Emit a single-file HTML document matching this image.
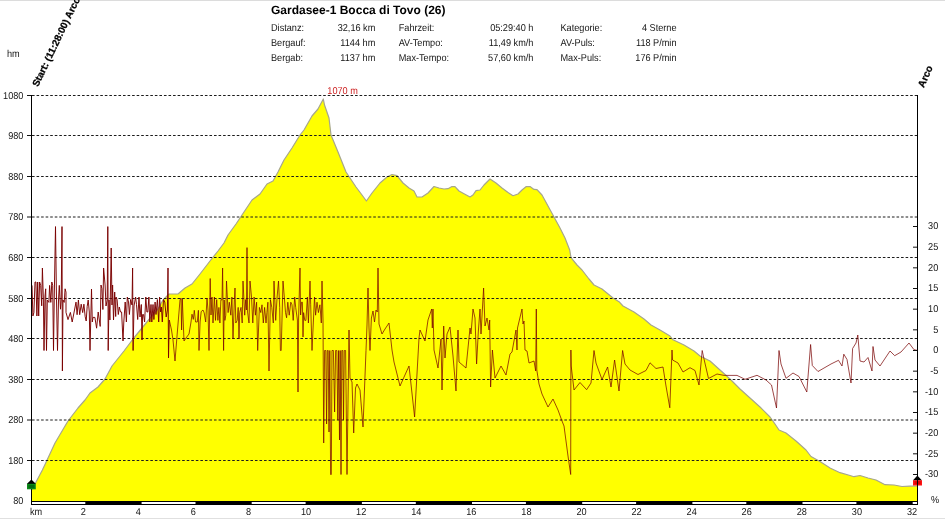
<!DOCTYPE html>
<html><head><meta charset="utf-8"><title>Gardasee-1 Bocca di Tovo (26)</title>
<style>
html,body{margin:0;padding:0;background:#fff;}
body{width:945px;height:519px;overflow:hidden;position:relative;font-family:"Liberation Sans",Arial,sans-serif;}
svg text{text-rendering:geometricPrecision;}
</style></head><body>
<svg width="945" height="519" viewBox="0 0 945 519" style="position:absolute;left:0;top:0">
<rect x="0" y="0" width="945" height="519" fill="#fff"/>
<rect x="0" y="0" width="945" height="1" fill="#dcdcdc"/>
<rect x="0" y="518" width="945" height="1" fill="#e0e0e0"/>
<polygon points="31.5,501.5 31.5,490.0 35.8,482.5 42.4,470.0 45.0,464.5 55.0,443.0 68.0,421.0 78.0,408.0 85.0,400.0 90.0,393.0 98.0,387.0 105.0,379.0 112.0,366.0 124.0,351.0 133.0,339.0 142.0,328.0 151.0,317.0 158.0,309.0 163.0,300.0 169.0,294.0 178.0,294.0 185.0,288.0 192.0,284.0 200.0,274.0 210.0,261.0 218.0,251.0 224.0,243.0 228.0,235.0 236.0,224.0 244.0,212.0 252.0,200.0 260.0,194.0 267.0,184.0 273.0,181.0 278.0,172.0 284.0,160.0 292.0,148.0 300.0,135.0 304.0,130.0 312.0,116.0 318.0,109.0 323.3,99.0 324.5,105.0 329.0,118.0 331.0,135.0 338.0,152.0 346.0,172.0 352.0,181.0 356.0,187.0 362.0,195.0 366.4,201.0 372.0,193.0 380.0,183.0 387.0,177.0 392.0,174.5 397.0,175.6 403.0,183.0 409.0,188.0 414.0,191.0 417.0,197.0 422.0,197.0 428.0,193.0 434.0,186.5 439.0,188.0 444.0,189.0 448.0,188.7 452.0,186.5 455.0,186.7 459.0,191.0 464.0,193.7 470.0,197.0 473.0,195.0 476.0,190.7 480.0,190.0 484.0,185.0 490.0,179.0 496.0,183.0 502.0,188.0 508.0,192.5 513.0,195.7 518.0,194.0 522.0,190.0 526.0,186.7 530.0,186.6 534.0,189.4 537.0,189.6 542.0,195.0 548.0,206.0 554.0,217.0 560.0,228.0 565.0,238.0 569.7,250.0 571.0,257.6 577.0,265.0 582.0,270.0 589.0,279.0 594.0,285.0 602.0,289.0 613.0,298.0 619.0,301.7 623.0,306.0 634.0,312.0 644.0,319.0 651.0,325.0 660.0,330.0 670.0,336.0 673.0,339.8 684.0,345.0 694.0,351.0 700.0,356.0 710.0,361.0 720.0,370.0 730.0,379.0 740.0,389.0 750.0,398.0 760.0,407.0 770.0,417.0 775.0,424.0 779.0,430.0 786.0,433.0 796.0,441.0 806.0,450.0 811.0,456.5 820.0,461.5 830.0,468.0 840.0,472.7 850.0,475.5 854.0,476.7 860.0,475.5 868.0,478.0 876.0,480.0 885.0,484.7 894.0,485.0 902.0,486.5 910.0,486.2 917.5,486.0 917.5,501.5" fill="#ffff00"/>
<polyline points="31.5,490.0 35.8,482.5 42.4,470.0 45.0,464.5 55.0,443.0 68.0,421.0 78.0,408.0 85.0,400.0 90.0,393.0 98.0,387.0 105.0,379.0 112.0,366.0 124.0,351.0 133.0,339.0 142.0,328.0 151.0,317.0 158.0,309.0 163.0,300.0 169.0,294.0 178.0,294.0 185.0,288.0 192.0,284.0 200.0,274.0 210.0,261.0 218.0,251.0 224.0,243.0 228.0,235.0 236.0,224.0 244.0,212.0 252.0,200.0 260.0,194.0 267.0,184.0 273.0,181.0 278.0,172.0 284.0,160.0 292.0,148.0 300.0,135.0 304.0,130.0 312.0,116.0 318.0,109.0 323.3,99.0 324.5,105.0 329.0,118.0 331.0,135.0 338.0,152.0 346.0,172.0 352.0,181.0 356.0,187.0 362.0,195.0 366.4,201.0 372.0,193.0 380.0,183.0 387.0,177.0 392.0,174.5 397.0,175.6 403.0,183.0 409.0,188.0 414.0,191.0 417.0,197.0 422.0,197.0 428.0,193.0 434.0,186.5 439.0,188.0 444.0,189.0 448.0,188.7 452.0,186.5 455.0,186.7 459.0,191.0 464.0,193.7 470.0,197.0 473.0,195.0 476.0,190.7 480.0,190.0 484.0,185.0 490.0,179.0 496.0,183.0 502.0,188.0 508.0,192.5 513.0,195.7 518.0,194.0 522.0,190.0 526.0,186.7 530.0,186.6 534.0,189.4 537.0,189.6 542.0,195.0 548.0,206.0 554.0,217.0 560.0,228.0 565.0,238.0 569.7,250.0 571.0,257.6 577.0,265.0 582.0,270.0 589.0,279.0 594.0,285.0 602.0,289.0 613.0,298.0 619.0,301.7 623.0,306.0 634.0,312.0 644.0,319.0 651.0,325.0 660.0,330.0 670.0,336.0 673.0,339.8 684.0,345.0 694.0,351.0 700.0,356.0 710.0,361.0 720.0,370.0 730.0,379.0 740.0,389.0 750.0,398.0 760.0,407.0 770.0,417.0 775.0,424.0 779.0,430.0 786.0,433.0 796.0,441.0 806.0,450.0 811.0,456.5 820.0,461.5 830.0,468.0 840.0,472.7 850.0,475.5 854.0,476.7 860.0,475.5 868.0,478.0 876.0,480.0 885.0,484.7 894.0,485.0 902.0,486.5 910.0,486.2 917.5,486.0" fill="none" stroke="#a6a68c" stroke-width="1.2" stroke-linejoin="round"/>
<line x1="27" y1="460.50" x2="31" y2="460.50" stroke="#111" stroke-width="1"/>
<line x1="32" y1="460.50" x2="917" y2="460.50" stroke="#1c1c1c" stroke-width="1" stroke-dasharray="2.6 1.95"/>
<line x1="27" y1="420.00" x2="31" y2="420.00" stroke="#111" stroke-width="1"/>
<line x1="32" y1="420.00" x2="917" y2="420.00" stroke="#1c1c1c" stroke-width="1" stroke-dasharray="2.6 1.95"/>
<line x1="27" y1="379.50" x2="31" y2="379.50" stroke="#111" stroke-width="1"/>
<line x1="32" y1="379.50" x2="917" y2="379.50" stroke="#1c1c1c" stroke-width="1" stroke-dasharray="2.6 1.95"/>
<line x1="27" y1="338.50" x2="31" y2="338.50" stroke="#111" stroke-width="1"/>
<line x1="32" y1="338.50" x2="917" y2="338.50" stroke="#1c1c1c" stroke-width="1" stroke-dasharray="2.6 1.95"/>
<line x1="27" y1="298.50" x2="31" y2="298.50" stroke="#111" stroke-width="1"/>
<line x1="32" y1="298.50" x2="917" y2="298.50" stroke="#1c1c1c" stroke-width="1" stroke-dasharray="2.6 1.95"/>
<line x1="27" y1="257.50" x2="31" y2="257.50" stroke="#111" stroke-width="1"/>
<line x1="32" y1="257.50" x2="917" y2="257.50" stroke="#1c1c1c" stroke-width="1" stroke-dasharray="2.6 1.95"/>
<line x1="27" y1="217.00" x2="31" y2="217.00" stroke="#111" stroke-width="1"/>
<line x1="32" y1="217.00" x2="917" y2="217.00" stroke="#1c1c1c" stroke-width="1" stroke-dasharray="2.6 1.95"/>
<line x1="27" y1="176.50" x2="31" y2="176.50" stroke="#111" stroke-width="1"/>
<line x1="32" y1="176.50" x2="917" y2="176.50" stroke="#1c1c1c" stroke-width="1" stroke-dasharray="2.6 1.95"/>
<line x1="27" y1="135.50" x2="31" y2="135.50" stroke="#111" stroke-width="1"/>
<line x1="32" y1="135.50" x2="917" y2="135.50" stroke="#1c1c1c" stroke-width="1" stroke-dasharray="2.6 1.95"/>
<line x1="27" y1="95.50" x2="31" y2="95.50" stroke="#111" stroke-width="1"/>
<line x1="32" y1="95.50" x2="917" y2="95.50" stroke="#1c1c1c" stroke-width="1" stroke-dasharray="2.6 1.95"/>
<polyline points="32.0,285.4 32.9,316.0 33.9,312.6 35.0,282.0 35.9,282.0 36.9,316.0 37.7,282.0 38.7,316.0 39.6,282.0 40.7,285.4 41.7,305.8 42.4,268.0 43.4,300.0 44.0,350.5 45.0,296.0 45.7,288.8 46.5,350.5 47.3,300.0 48.9,302.4 49.6,285.4 50.8,302.4 51.8,282.0 52.7,285.4 53.5,350.5 54.3,295.0 55.5,226.6 56.5,300.0 57.5,350.5 58.5,300.0 59.3,285.4 60.5,309.2 61.2,300.0 62.0,226.6 62.4,371.0 63.0,300.0 64.2,302.4 65.1,288.8 66.0,292.2 66.0,312.4 68.0,319.6 70.4,312.4 72.2,322.0 74.5,310.0 76.0,302.1 77.1,314.7 78.4,300.0 79.7,314.7 81.2,304.2 82.7,312.6 83.9,304.2 85.2,316.8 86.2,321.0 87.2,306.3 88.2,300.0 89.3,312.0 90.0,350.5 90.8,318.0 91.5,289.0 92.3,322.0 93.0,317.4 94.9,317.4 96.6,328.2 98.2,312.0 100.2,326.4 101.0,285.0 101.9,288.5 102.9,309.5 103.6,268.0 105.1,285.0 106.0,306.0 107.2,300.0 107.8,226.6 108.2,350.5 109.0,300.0 109.9,320.0 111.2,248.0 112.0,305.0 112.6,285.0 113.5,320.0 114.7,292.0 115.7,316.5 116.0,297.0 117.1,299.5 118.3,314.5 119.3,307.0 120.5,312.0 121.6,312.0 123.0,341.0 123.8,322.0 125.2,302.0 126.4,322.0 127.3,297.0 128.5,302.0 129.4,314.5 130.6,299.5 132.0,305.0 132.6,268.0 133.1,350.5 134.0,306.0 135.6,297.0 136.5,304.5 137.7,319.5 139.0,297.0 140.0,317.0 141.3,304.5 142.0,340.0 142.6,314.5 143.5,314.5 144.6,322.0 145.8,297.0 146.9,312.0 147.8,312.0 148.9,297.0 149.8,322.0 151.0,304.5 151.8,322.0 153.0,304.5 153.9,319.5 155.1,302.0 156.0,314.5 157.4,299.5 158.7,322.0 159.6,297.0 160.6,312.0 161.4,307.0 162.3,322.0 163.5,299.5 164.8,302.0 166.2,317.0 167.4,310.0 168.0,268.0 168.5,358.0 169.3,320.0" fill="none" stroke="#7a0000" stroke-width="0.95" stroke-linejoin="miter" stroke-miterlimit="2"/>
<polyline points="169.3,320.0 171.5,330.0 173.0,340.0 175.0,361.0 177.5,330.0 180.0,300.0 181.0,298.0 181.6,330.0 182.3,299.0 184.0,341.0 186.0,338.0 189.0,334.0 191.0,322.0 192.0,314.2 193.3,319.4 194.3,310.3 195.6,322.0 197.3,322.0 198.4,310.3 199.0,350.5 200.1,322.0 201.2,311.6 203.0,310.0 204.2,312.9 205.7,322.0 207.0,298.0 208.0,310.0 209.0,350.5 210.2,278.5 211.0,315.0 212.0,297.0 213.0,323.0 214.4,297.0 215.5,320.4 216.7,299.6 217.9,320.4 218.9,307.4 219.9,323.0 220.9,299.6 222.0,300.0 222.6,268.0 223.2,320.0 223.6,350.5 224.2,300.0 224.9,320.4 225.8,315.2 226.5,281.0 228.1,312.6 229.3,302.2 230.8,315.2 231.9,297.0 233.0,339.0 234.4,299.6 235.0,288.0 235.8,323.0 237.2,320.4 238.2,307.4 239.0,339.0 239.7,312.6 241.0,307.4 242.2,323.0 243.0,281.0 244.7,315.2 245.7,299.6 246.4,310.0 247.0,247.6 247.6,312.0 249.0,323.0 250.0,281.0 251.5,297.0 252.8,323.0 254.1,297.0 255.4,315.2 256.6,302.2 257.7,350.5 259.4,307.4 260.8,312.6 262.0,304.8 263.3,323.0 264.6,307.4 266.0,323.0 266.9,312.6 267.9,302.2 269.0,371.0 270.4,299.6 271.8,307.4 273.3,323.0 274.0,281.0 275.7,320.4 277.1,297.0 278.5,281.0 279.7,307.4 280.4,350.5 281.2,350.5 283.0,281.0 284.3,297.0 285.5,312.6 286.6,317.8 287.8,302.2 289.2,315.2 290.8,302.2 292.0,304.8 293.2,320.4 294.7,297.0 295.7,307.4 297.4,320.0 298.0,392.0 298.6,318.0 300.0,268.0 300.6,315.0 301.5,302.2 302.4,302.2 303.0,337.0 303.6,312.6 304.8,320.4 305.9,320.4 307.4,297.0 308.4,323.0 310.0,281.0 310.7,304.8 312.0,350.5 313.3,323.0 314.5,297.0 315.6,315.2 317.0,302.2 318.4,312.6 319.9,304.8 320.5,312.0 321.3,323.0 322.0,281.0 323.0,320.0 323.7,443.0 324.6,350.5 325.8,350.5 326.6,424.0 327.3,350.5 328.2,350.5 329.0,432.0 329.8,350.5 330.6,474.5 331.3,474.5 332.0,350.5 333.4,350.5 334.6,412.0 335.6,350.5 336.8,350.5 337.8,420.0 338.6,350.5 339.5,440.0 340.2,350.5 341.0,474.5 341.8,350.5 342.8,350.5 343.5,420.0 344.3,350.5 345.6,350.5 347.0,474.5 349.0,330.0 350.0,378.0 352.0,382.0 353.7,433.0 355.5,388.0 357.0,384.0 360.0,390.0 363.0,427.0 366.0,350.5 367.0,325.0 368.0,288.0 369.0,328.0 370.0,350.5 371.4,318.0 373.0,311.0 374.5,322.0 376.0,310.0 377.3,312.0 378.0,268.0 379.0,324.0 382.0,334.0 385.0,329.0 389.0,323.0 392.0,350.0 394.0,362.0 400.0,386.0 409.0,366.0 414.6,417.0 419.0,338.0 420.0,330.0 425.0,341.0 428.0,320.0 431.7,309.0 432.3,328.0 433.0,309.0 434.0,350.0 438.0,368.0 441.0,339.0 442.0,390.0 443.7,326.0 445.0,358.0 447.0,334.0 450.0,327.0 453.0,356.0 456.0,391.0 458.0,330.0 459.0,362.0 466.0,368.0 470.0,328.0 471.0,334.0 473.0,309.0 475.0,318.0 476.6,364.0 478.3,332.0 480.0,309.0 481.0,334.0 483.6,288.0 485.0,326.0 487.0,318.0 489.0,330.0 489.7,320.0 490.6,387.0 492.4,350.0 495.0,378.0 501.0,366.0 506.0,375.0 510.0,354.0 512.0,352.0 516.0,330.0 517.0,350.0 517.5,328.0 522.0,309.0 523.0,324.0 524.0,321.0 525.0,350.0 527.0,351.0 529.0,363.0 534.0,361.0 535.7,371.0 536.3,309.0 536.8,370.0 539.0,384.0 542.0,394.0 548.0,407.0 553.0,399.0 558.0,410.0 562.0,421.0 564.0,426.0 568.0,456.0 570.7,474.5 570.9,350.0 571.2,366.0 574.0,390.0 580.0,382.5 586.6,389.7 591.0,383.0 594.0,350.5 596.0,363.0 602.0,379.5 607.6,367.0 611.0,387.0 614.6,360.0 619.0,391.0 622.6,350.5 625.0,364.0 630.0,370.0 638.0,374.5 646.0,370.5 650.0,362.8 656.0,368.5 663.0,367.0 666.0,386.0 669.8,407.8 672.0,350.0 672.6,360.0 678.0,363.0 683.0,372.0 690.0,367.7 695.0,370.5 699.0,385.0 702.2,350.5 704.0,359.0 708.5,378.5 717.0,374.0 724.0,375.4 737.0,375.4 745.0,379.3 757.0,375.3 766.0,380.0 771.5,385.0 776.5,408.0 779.0,350.5 781.0,364.0 786.0,378.3 793.0,373.0 799.0,376.5 806.8,392.0 810.6,344.5 812.3,365.5 818.0,371.5 831.0,364.0 838.5,360.3 842.0,366.0 843.8,354.2 847.0,359.5 851.0,383.0 852.6,348.5 856.0,343.0 857.8,335.0 860.0,361.0 864.0,362.0 868.0,357.5 872.0,371.0 873.0,346.5 875.0,360.0 880.0,366.0 890.0,351.0 894.7,355.7 901.0,352.0 909.0,343.0 914.0,349.7 917.0,350.3" fill="none" stroke="#780000" stroke-width="0.72" stroke-linejoin="miter" stroke-miterlimit="2"/>
<rect x="31" y="95" width="1" height="410" fill="#000"/>
<rect x="31" y="501" width="887" height="4" fill="#000"/>
<rect x="32.0" y="502" width="53.3" height="2" fill="#fff"/>
<rect x="141.6" y="502" width="53.9" height="2" fill="#fff"/>
<rect x="251.7" y="502" width="53.9" height="2" fill="#fff"/>
<rect x="361.9" y="502" width="53.9" height="2" fill="#fff"/>
<rect x="472.0" y="502" width="53.9" height="2" fill="#fff"/>
<rect x="582.2" y="502" width="53.9" height="2" fill="#fff"/>
<rect x="692.4" y="502" width="53.9" height="2" fill="#fff"/>
<rect x="802.5" y="502" width="53.9" height="2" fill="#fff"/>
<rect x="912.7" y="502" width="4.3" height="2" fill="#fff"/>
<line x1="913" y1="474.49" x2="917" y2="474.49" stroke="#111" stroke-width="1"/>
<line x1="913" y1="453.82" x2="917" y2="453.82" stroke="#111" stroke-width="1"/>
<line x1="913" y1="433.16" x2="917" y2="433.16" stroke="#111" stroke-width="1"/>
<line x1="913" y1="412.50" x2="917" y2="412.50" stroke="#111" stroke-width="1"/>
<line x1="913" y1="391.83" x2="917" y2="391.83" stroke="#111" stroke-width="1"/>
<line x1="913" y1="371.17" x2="917" y2="371.17" stroke="#111" stroke-width="1"/>
<line x1="913" y1="350.50" x2="917" y2="350.50" stroke="#111" stroke-width="1"/>
<line x1="913" y1="329.83" x2="917" y2="329.83" stroke="#111" stroke-width="1"/>
<line x1="913" y1="309.17" x2="917" y2="309.17" stroke="#111" stroke-width="1"/>
<line x1="913" y1="288.50" x2="917" y2="288.50" stroke="#111" stroke-width="1"/>
<line x1="913" y1="267.84" x2="917" y2="267.84" stroke="#111" stroke-width="1"/>
<line x1="913" y1="247.18" x2="917" y2="247.18" stroke="#111" stroke-width="1"/>
<line x1="913" y1="226.51" x2="917" y2="226.51" stroke="#111" stroke-width="1"/>
<polygon points="26.8,484 31.4,479.5 36,484" fill="#000"/>
<rect x="27" y="483.8" width="8.8" height="5.5" fill="#0a8a18"/>
<rect x="28.5" y="485" width="6" height="3" fill="#056a10"/>
<polygon points="912.8,480.5 917.4,475.6 922,480.5" fill="#000"/>
<rect x="913" y="480.3" width="9" height="5.2" fill="#ff1414"/>
<rect x="914.5" y="481.2" width="6" height="3" fill="#e00000"/>
<rect x="917" y="95" width="1" height="410" fill="#000"/>
<text x="0.0" y="0.0" font-size="10" font-weight="normal" text-anchor="end" fill="#141414" font-family="Liberation Sans, Arial, sans-serif" transform="translate(23.4,503.6) scale(0.915,1)">80</text>
<text x="0.0" y="0.0" font-size="10" font-weight="normal" text-anchor="end" fill="#141414" font-family="Liberation Sans, Arial, sans-serif" transform="translate(23.4,463.7) scale(0.915,1)">180</text>
<text x="0.0" y="0.0" font-size="10" font-weight="normal" text-anchor="end" fill="#141414" font-family="Liberation Sans, Arial, sans-serif" transform="translate(23.4,423.2) scale(0.915,1)">280</text>
<text x="0.0" y="0.0" font-size="10" font-weight="normal" text-anchor="end" fill="#141414" font-family="Liberation Sans, Arial, sans-serif" transform="translate(23.4,382.7) scale(0.915,1)">380</text>
<text x="0.0" y="0.0" font-size="10" font-weight="normal" text-anchor="end" fill="#141414" font-family="Liberation Sans, Arial, sans-serif" transform="translate(23.4,341.7) scale(0.915,1)">480</text>
<text x="0.0" y="0.0" font-size="10" font-weight="normal" text-anchor="end" fill="#141414" font-family="Liberation Sans, Arial, sans-serif" transform="translate(23.4,301.7) scale(0.915,1)">580</text>
<text x="0.0" y="0.0" font-size="10" font-weight="normal" text-anchor="end" fill="#141414" font-family="Liberation Sans, Arial, sans-serif" transform="translate(23.4,260.7) scale(0.915,1)">680</text>
<text x="0.0" y="0.0" font-size="10" font-weight="normal" text-anchor="end" fill="#141414" font-family="Liberation Sans, Arial, sans-serif" transform="translate(23.4,220.2) scale(0.915,1)">780</text>
<text x="0.0" y="0.0" font-size="10" font-weight="normal" text-anchor="end" fill="#141414" font-family="Liberation Sans, Arial, sans-serif" transform="translate(23.4,179.7) scale(0.915,1)">880</text>
<text x="0.0" y="0.0" font-size="10" font-weight="normal" text-anchor="end" fill="#141414" font-family="Liberation Sans, Arial, sans-serif" transform="translate(23.4,138.7) scale(0.915,1)">980</text>
<text x="0.0" y="0.0" font-size="10" font-weight="normal" text-anchor="end" fill="#141414" font-family="Liberation Sans, Arial, sans-serif" transform="translate(23.4,98.7) scale(0.915,1)">1080</text>
<text x="0.0" y="0.0" font-size="10" font-weight="normal" text-anchor="start" fill="#141414" font-family="Liberation Sans, Arial, sans-serif" transform="translate(7.0,57.0) scale(0.915,1)">hm</text>
<text x="0.0" y="0.0" font-size="10" font-weight="normal" text-anchor="start" fill="#141414" font-family="Liberation Sans, Arial, sans-serif" transform="translate(30.0,514.7) scale(0.915,1)">km</text>
<text x="0.0" y="0.0" font-size="10" font-weight="normal" text-anchor="start" fill="#141414" font-family="Liberation Sans, Arial, sans-serif" transform="translate(80.7,515.0) scale(0.915,1)">2</text>
<text x="0.0" y="0.0" font-size="10" font-weight="normal" text-anchor="start" fill="#141414" font-family="Liberation Sans, Arial, sans-serif" transform="translate(135.8,515.0) scale(0.915,1)">4</text>
<text x="0.0" y="0.0" font-size="10" font-weight="normal" text-anchor="start" fill="#141414" font-family="Liberation Sans, Arial, sans-serif" transform="translate(190.8,515.0) scale(0.915,1)">6</text>
<text x="0.0" y="0.0" font-size="10" font-weight="normal" text-anchor="start" fill="#141414" font-family="Liberation Sans, Arial, sans-serif" transform="translate(245.9,515.0) scale(0.915,1)">8</text>
<text x="0.0" y="0.0" font-size="10" font-weight="normal" text-anchor="start" fill="#141414" font-family="Liberation Sans, Arial, sans-serif" transform="translate(301.0,515.0) scale(0.915,1)">10</text>
<text x="0.0" y="0.0" font-size="10" font-weight="normal" text-anchor="start" fill="#141414" font-family="Liberation Sans, Arial, sans-serif" transform="translate(356.1,515.0) scale(0.915,1)">12</text>
<text x="0.0" y="0.0" font-size="10" font-weight="normal" text-anchor="start" fill="#141414" font-family="Liberation Sans, Arial, sans-serif" transform="translate(411.2,515.0) scale(0.915,1)">14</text>
<text x="0.0" y="0.0" font-size="10" font-weight="normal" text-anchor="start" fill="#141414" font-family="Liberation Sans, Arial, sans-serif" transform="translate(466.2,515.0) scale(0.915,1)">16</text>
<text x="0.0" y="0.0" font-size="10" font-weight="normal" text-anchor="start" fill="#141414" font-family="Liberation Sans, Arial, sans-serif" transform="translate(521.3,515.0) scale(0.915,1)">18</text>
<text x="0.0" y="0.0" font-size="10" font-weight="normal" text-anchor="start" fill="#141414" font-family="Liberation Sans, Arial, sans-serif" transform="translate(576.4,515.0) scale(0.915,1)">20</text>
<text x="0.0" y="0.0" font-size="10" font-weight="normal" text-anchor="start" fill="#141414" font-family="Liberation Sans, Arial, sans-serif" transform="translate(631.5,515.0) scale(0.915,1)">22</text>
<text x="0.0" y="0.0" font-size="10" font-weight="normal" text-anchor="start" fill="#141414" font-family="Liberation Sans, Arial, sans-serif" transform="translate(686.6,515.0) scale(0.915,1)">24</text>
<text x="0.0" y="0.0" font-size="10" font-weight="normal" text-anchor="start" fill="#141414" font-family="Liberation Sans, Arial, sans-serif" transform="translate(741.6,515.0) scale(0.915,1)">26</text>
<text x="0.0" y="0.0" font-size="10" font-weight="normal" text-anchor="start" fill="#141414" font-family="Liberation Sans, Arial, sans-serif" transform="translate(796.7,515.0) scale(0.915,1)">28</text>
<text x="0.0" y="0.0" font-size="10" font-weight="normal" text-anchor="start" fill="#141414" font-family="Liberation Sans, Arial, sans-serif" transform="translate(851.8,515.0) scale(0.915,1)">30</text>
<text x="0.0" y="0.0" font-size="10" font-weight="normal" text-anchor="start" fill="#141414" font-family="Liberation Sans, Arial, sans-serif" transform="translate(906.9,515.0) scale(0.915,1)">32</text>
<text x="0.0" y="0.0" font-size="10" font-weight="normal" text-anchor="end" fill="#141414" font-family="Liberation Sans, Arial, sans-serif" transform="translate(938.3,477.4) scale(0.915,1)">-30</text>
<text x="0.0" y="0.0" font-size="10" font-weight="normal" text-anchor="end" fill="#141414" font-family="Liberation Sans, Arial, sans-serif" transform="translate(938.3,456.7) scale(0.915,1)">-25</text>
<text x="0.0" y="0.0" font-size="10" font-weight="normal" text-anchor="end" fill="#141414" font-family="Liberation Sans, Arial, sans-serif" transform="translate(938.3,436.1) scale(0.915,1)">-20</text>
<text x="0.0" y="0.0" font-size="10" font-weight="normal" text-anchor="end" fill="#141414" font-family="Liberation Sans, Arial, sans-serif" transform="translate(938.3,415.4) scale(0.915,1)">-15</text>
<text x="0.0" y="0.0" font-size="10" font-weight="normal" text-anchor="end" fill="#141414" font-family="Liberation Sans, Arial, sans-serif" transform="translate(938.3,394.7) scale(0.915,1)">-10</text>
<text x="0.0" y="0.0" font-size="10" font-weight="normal" text-anchor="end" fill="#141414" font-family="Liberation Sans, Arial, sans-serif" transform="translate(938.3,374.1) scale(0.915,1)">-5</text>
<text x="0.0" y="0.0" font-size="10" font-weight="normal" text-anchor="end" fill="#141414" font-family="Liberation Sans, Arial, sans-serif" transform="translate(938.3,353.4) scale(0.915,1)">0</text>
<text x="0.0" y="0.0" font-size="10" font-weight="normal" text-anchor="end" fill="#141414" font-family="Liberation Sans, Arial, sans-serif" transform="translate(938.3,332.7) scale(0.915,1)">5</text>
<text x="0.0" y="0.0" font-size="10" font-weight="normal" text-anchor="end" fill="#141414" font-family="Liberation Sans, Arial, sans-serif" transform="translate(938.3,312.1) scale(0.915,1)">10</text>
<text x="0.0" y="0.0" font-size="10" font-weight="normal" text-anchor="end" fill="#141414" font-family="Liberation Sans, Arial, sans-serif" transform="translate(938.3,291.4) scale(0.915,1)">15</text>
<text x="0.0" y="0.0" font-size="10" font-weight="normal" text-anchor="end" fill="#141414" font-family="Liberation Sans, Arial, sans-serif" transform="translate(938.3,270.7) scale(0.915,1)">20</text>
<text x="0.0" y="0.0" font-size="10" font-weight="normal" text-anchor="end" fill="#141414" font-family="Liberation Sans, Arial, sans-serif" transform="translate(938.3,250.1) scale(0.915,1)">25</text>
<text x="0.0" y="0.0" font-size="10" font-weight="normal" text-anchor="end" fill="#141414" font-family="Liberation Sans, Arial, sans-serif" transform="translate(938.3,229.4) scale(0.915,1)">30</text>
<text x="0.0" y="0.0" font-size="10" font-weight="normal" text-anchor="start" fill="#141414" font-family="Liberation Sans, Arial, sans-serif" transform="translate(931.0,503.0) scale(0.915,1)">%</text>
<text x="0.0" y="0.0" font-size="10" font-weight="normal" text-anchor="start" fill="#cc2222" font-family="Liberation Sans, Arial, sans-serif" transform="translate(327.3,94.0) scale(0.915,1)">1070 m</text>
<text x="271.0" y="13.6" font-size="12" font-weight="bold" text-anchor="start" fill="#000" font-family="Liberation Sans, Arial, sans-serif" >Gardasee-1 Bocca di Tovo (26)</text>
<text x="0.0" y="0.0" font-size="10" font-weight="normal" text-anchor="start" fill="#141414" font-family="Liberation Sans, Arial, sans-serif" transform="translate(271.0,31.3) scale(0.915,1)">Distanz:</text>
<text x="0.0" y="0.0" font-size="10" font-weight="normal" text-anchor="end" fill="#141414" font-family="Liberation Sans, Arial, sans-serif" transform="translate(375.3,31.3) scale(0.915,1)">32,16 km</text>
<text x="0.0" y="0.0" font-size="10" font-weight="normal" text-anchor="start" fill="#141414" font-family="Liberation Sans, Arial, sans-serif" transform="translate(398.7,31.3) scale(0.915,1)">Fahrzeit:</text>
<text x="0.0" y="0.0" font-size="10" font-weight="normal" text-anchor="end" fill="#141414" font-family="Liberation Sans, Arial, sans-serif" transform="translate(533.4,31.3) scale(0.915,1)">05:29:40 h</text>
<text x="0.0" y="0.0" font-size="10" font-weight="normal" text-anchor="start" fill="#141414" font-family="Liberation Sans, Arial, sans-serif" transform="translate(560.5,31.3) scale(0.915,1)">Kategorie:</text>
<text x="0.0" y="0.0" font-size="10" font-weight="normal" text-anchor="end" fill="#141414" font-family="Liberation Sans, Arial, sans-serif" transform="translate(676.5,31.3) scale(0.915,1)">4 Sterne</text>
<text x="0.0" y="0.0" font-size="10" font-weight="normal" text-anchor="start" fill="#141414" font-family="Liberation Sans, Arial, sans-serif" transform="translate(271.0,46.3) scale(0.915,1)">Bergauf:</text>
<text x="0.0" y="0.0" font-size="10" font-weight="normal" text-anchor="end" fill="#141414" font-family="Liberation Sans, Arial, sans-serif" transform="translate(375.3,46.3) scale(0.915,1)">1144 hm</text>
<text x="0.0" y="0.0" font-size="10" font-weight="normal" text-anchor="start" fill="#141414" font-family="Liberation Sans, Arial, sans-serif" transform="translate(398.7,46.3) scale(0.915,1)">AV-Tempo:</text>
<text x="0.0" y="0.0" font-size="10" font-weight="normal" text-anchor="end" fill="#141414" font-family="Liberation Sans, Arial, sans-serif" transform="translate(533.4,46.3) scale(0.915,1)">11,49 km/h</text>
<text x="0.0" y="0.0" font-size="10" font-weight="normal" text-anchor="start" fill="#141414" font-family="Liberation Sans, Arial, sans-serif" transform="translate(560.5,46.3) scale(0.915,1)">AV-Puls:</text>
<text x="0.0" y="0.0" font-size="10" font-weight="normal" text-anchor="end" fill="#141414" font-family="Liberation Sans, Arial, sans-serif" transform="translate(676.5,46.3) scale(0.915,1)">118 P/min</text>
<text x="0.0" y="0.0" font-size="10" font-weight="normal" text-anchor="start" fill="#141414" font-family="Liberation Sans, Arial, sans-serif" transform="translate(271.0,61.3) scale(0.915,1)">Bergab:</text>
<text x="0.0" y="0.0" font-size="10" font-weight="normal" text-anchor="end" fill="#141414" font-family="Liberation Sans, Arial, sans-serif" transform="translate(375.3,61.3) scale(0.915,1)">1137 hm</text>
<text x="0.0" y="0.0" font-size="10" font-weight="normal" text-anchor="start" fill="#141414" font-family="Liberation Sans, Arial, sans-serif" transform="translate(398.7,61.3) scale(0.915,1)">Max-Tempo:</text>
<text x="0.0" y="0.0" font-size="10" font-weight="normal" text-anchor="end" fill="#141414" font-family="Liberation Sans, Arial, sans-serif" transform="translate(533.4,61.3) scale(0.915,1)">57,60 km/h</text>
<text x="0.0" y="0.0" font-size="10" font-weight="normal" text-anchor="start" fill="#141414" font-family="Liberation Sans, Arial, sans-serif" transform="translate(560.5,61.3) scale(0.915,1)">Max-Puls:</text>
<text x="0.0" y="0.0" font-size="10" font-weight="normal" text-anchor="end" fill="#141414" font-family="Liberation Sans, Arial, sans-serif" transform="translate(676.5,61.3) scale(0.915,1)">176 P/min</text>
<text x="0.0" y="0.0" font-size="9.75" font-weight="bold" text-anchor="start" fill="#000" font-family="Liberation Sans, Arial, sans-serif" stroke="#000" stroke-width="0.25" transform="translate(38,87.3) rotate(-64.4)">Start: (11:28:00) Arco</text>
<text x="0.0" y="0.0" font-size="10" font-weight="bold" text-anchor="start" fill="#000" font-family="Liberation Sans, Arial, sans-serif" stroke="#000" stroke-width="0.25" transform="translate(923.7,88.2) rotate(-66)">Arco</text>
</svg>
</body></html>
